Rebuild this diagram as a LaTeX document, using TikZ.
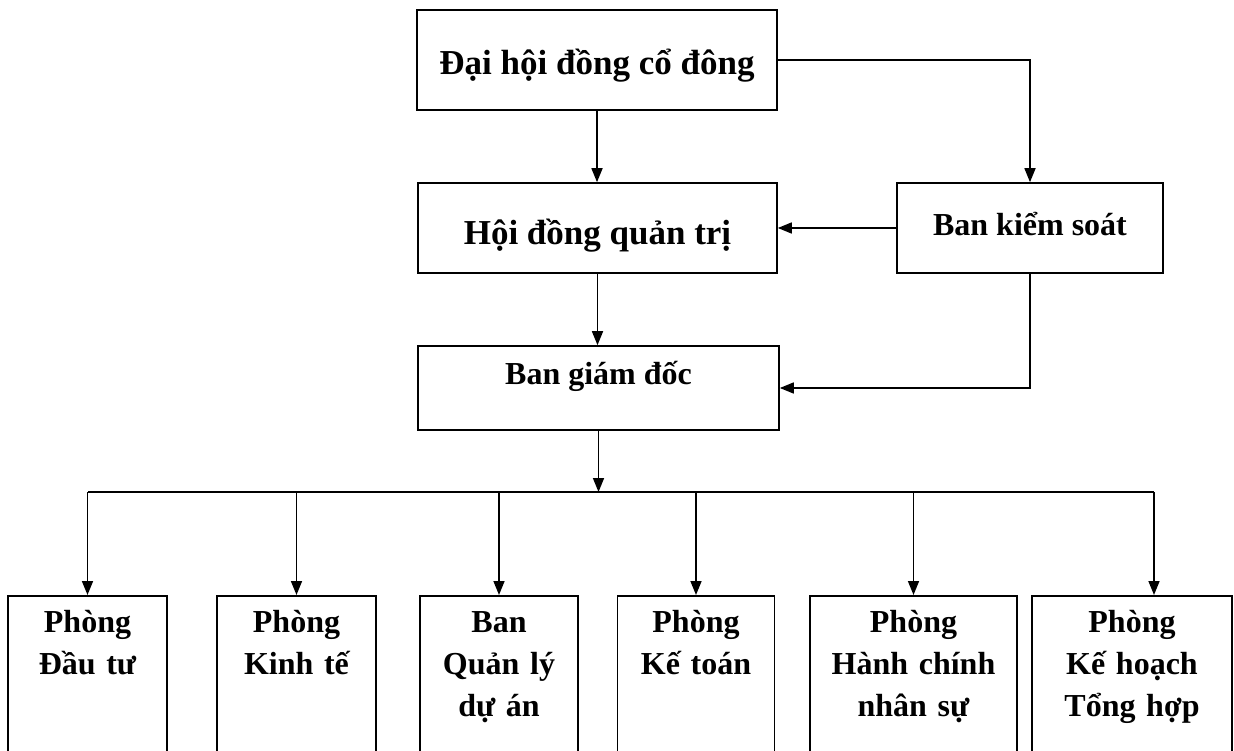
\documentclass[tikz,border=0pt]{standalone}
\usepackage{fontspec}
\setmainfont{Liberation Serif}
\usetikzlibrary{arrows.meta}
\newcommand{\boxfont}{\bfseries\fontsize{32}{42}\selectfont}
\newcommand{\bigboxfont}{\bfseries\fontsize{35}{42}\selectfont}
\tikzset{
  box/.style={draw, line width=1.6pt, inner sep=0pt, text depth=8pt, font=\boxfont},
  dept/.style={draw, line width=1.6pt, anchor=north, align=center,
               inner xsep=4pt, inner ysep=11pt, text height=26pt,
               text depth=170pt, font=\boxfont},
  arr/.style={line width=1.6pt, -{Triangle[length=14pt,width=11pt]}},
  link/.style={line width=1.6pt}
}

\begin{document}
\begin{tikzpicture}[x=1pt, y=-1pt]
\useasboundingbox (0,0) rectangle (1234,751);
\clip (0,0) rectangle (1234,751);

\node[box, font=\bigboxfont, text height=38pt, minimum width=360pt, minimum height=100pt] (dhd) at (597,60) {Đại hội đồng cổ đông};
\node[box, font=\bigboxfont, text height=42pt, minimum width=359pt, minimum height=90pt] (hdqt) at (597.5,228) {Hội đồng quản trị};
\node[box, text height=24pt, minimum width=266pt, minimum height=90pt] (bks) at (1030,228) {Ban kiểm soát};
\node[box, text height=0pt, minimum width=361pt, minimum height=84pt] (bgd) at (598.5,388) {Ban giám đốc};

\node[dept, text width=151pt] (pdt) at (87.5,595) {Phòng\\Đầu tư};
\node[dept, text width=151pt] (pkt) at (296.5,595) {Phòng\\Kinh tế};
\node[dept, text width=150pt] (bql) at (499,595) {Ban\\Quản lý\\dự án};
\node[dept, text width=149pt] (pkto) at (696,595) {Phòng\\Kế toán};
\node[dept, text width=199pt] (phc) at (913.5,595) {Phòng\\Hành chính\\nhân sự};
\node[dept, text width=192pt] (pkh) at (1132,595) {Phòng\\Kế hoạch\\Tổng hợp};

\draw[arr] (dhd.south) -- (dhd.south |- hdqt.north);
\draw[arr] (dhd.east) -| (bks.north);
\draw[arr] (bks) -- (hdqt);
\draw[arr] (hdqt.south) -- (hdqt.south |- bgd.north);
\draw[arr] (bks.south) |- (bgd.east);

\coordinate (busL) at (88,492);
\coordinate (busR) at (1154,492);
\draw[link] (busL) -- (busR);
\draw[arr] (bgd.south) -- (bgd.south |- busL);
\foreach \d in {pdt,pkt,bql,pkto,phc}
  \draw[arr] (\d.north |- busL) -- (\d.north);
\draw[arr] (busR) -- (busR |- pkh.north);
\end{tikzpicture}
\end{document}
